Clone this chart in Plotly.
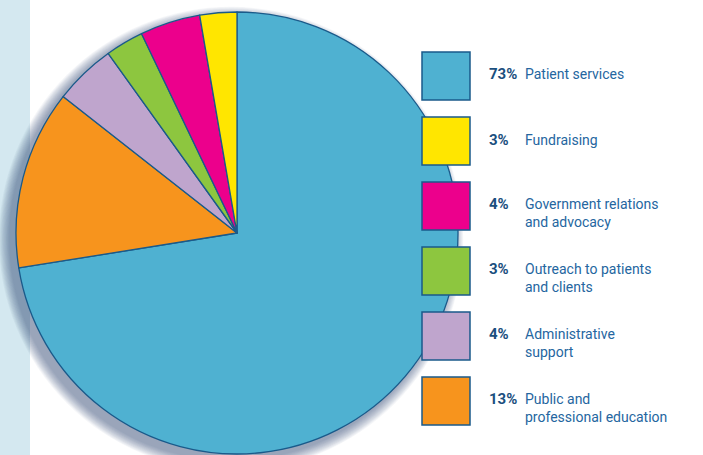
import plotly.graph_objects as go

# Data (legend order)
labels = ["Patient services", "Fundraising", "Government relations<br>and advocacy",
          "Outreach to patients<br>and clients", "Administrative<br>support",
          "Public and<br>professional education"]
percent_labels = [73, 3, 4, 3, 4, 13]
# slice shares
shares = [72.4, 2.7, 4.4, 2.8, 4.5, 13.1]
colors = ["#4FB1D1", "#FFE600", "#EC008C", "#8DC63F", "#BFA5CD", "#F7941D"]

# pie drawn clockwise from 12 o'clock in this order
pie_order = [0, 5, 4, 3, 2, 1]

W, H = 703, 455
def px(x):
    return x / W
def py(y):
    return 1 - y / H

cx, cy, r = 237, 233, 221
outline = "#1A5A8A"

fig = go.Figure()
fig.add_trace(go.Pie(
    labels=[labels[i] for i in pie_order],
    values=[shares[i] for i in pie_order],
    marker=dict(colors=[colors[i] for i in pie_order], line=dict(color=outline, width=1.3)),
    sort=False, direction="clockwise", rotation=0,
    textinfo="none", hoverinfo="label", showlegend=False,
    domain=dict(x=[px(cx - r), px(cx + r)], y=[py(cy + r), py(cy - r)]),
))

shapes = []
# left strip
shapes.append(dict(type="rect", xref="paper", yref="paper", x0=0, x1=px(30), y0=0, y1=1,
                   fillcolor="#D4E8F0", line=dict(width=0), layer="below"))
# soft shadow toward lower-left
for k in range(14, 0, -1):
    rr = r + k * 0.8
    ox, oy = cx - 6, cy + 6
    shapes.append(dict(type="circle", xref="paper", yref="paper",
                       x0=px(ox - rr), x1=px(ox + rr), y0=py(oy + rr), y1=py(oy - rr),
                       fillcolor="rgba(40,80,110,0.045)", line=dict(width=0), layer="below"))

annotations = []
sq_x0, sq_size, top0, step = 422, 48, 52, 65
for i, (lab, pct, col) in enumerate(zip(labels, percent_labels, colors)):
    y0 = top0 + i * step
    shapes.append(dict(type="rect", xref="paper", yref="paper",
                       x0=px(sq_x0), x1=px(sq_x0 + sq_size), y0=py(y0 + sq_size), y1=py(y0),
                       fillcolor=col, line=dict(color=outline, width=1.5)))
    two = "<br>" in lab
    yc = y0 + sq_size / 2 + (7 if two else -1.5)
    annotations.append(dict(xref="paper", yref="paper", x=px(487), y=py(yc - (9 if two else 0)),
                            text=f"<b>{pct}%</b>", showarrow=False, xanchor="left", yanchor="middle",
                            font=dict(family="Roboto", size=15, color="#1B4F7E")))
    annotations.append(dict(xref="paper", yref="paper", x=px(523), y=py(yc), text=lab,
                            showarrow=False, xanchor="left", yanchor="middle", align="left",
                            font=dict(family="Roboto", size=14, color="#2566A0")))

fig.update_layout(width=W, height=H, margin=dict(l=0, r=0, t=0, b=0),
                  paper_bgcolor="white", plot_bgcolor="white",
                  shapes=shapes, annotations=annotations)
fig.write_html("out.html", config={"displayModeBar": False},
               post_script="document.body.style.margin='0';document.body.style.padding='0';")
